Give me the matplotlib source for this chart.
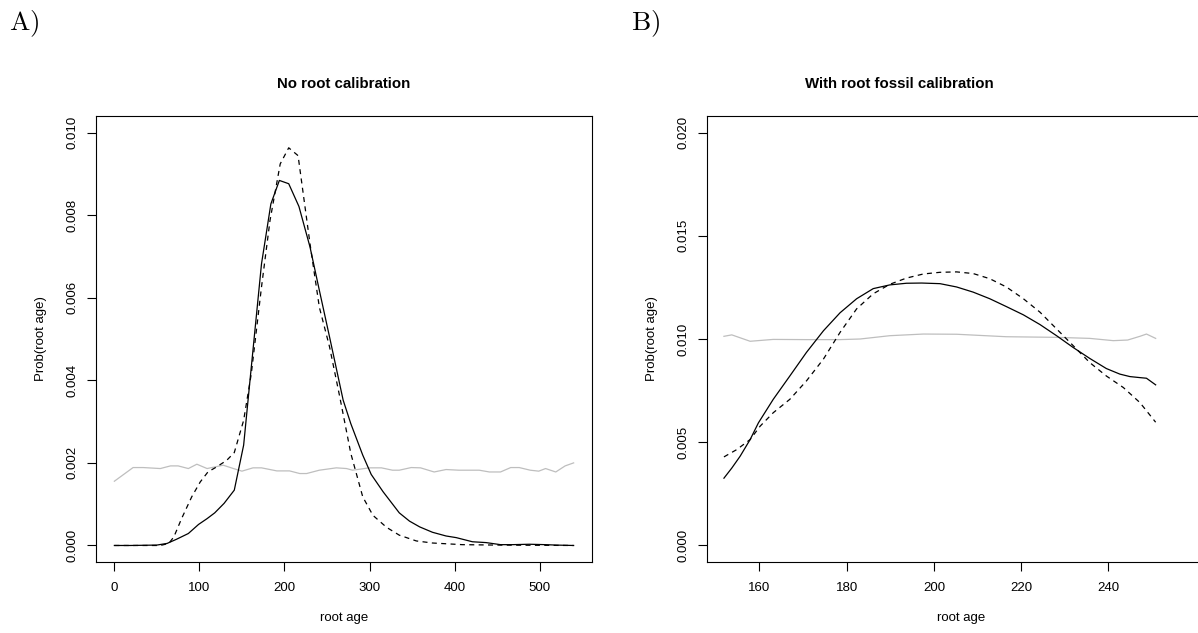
import numpy as np
import matplotlib
matplotlib.use("Agg")
import matplotlib.pyplot as plt

plt.rcParams['font.family'] = ['Liberation Sans', 'DejaVu Sans']
plt.rcParams['mathtext.fontset'] = 'cm'

# panel A: no root calibration
a_solid_x = [0, 19, 50, 62, 73, 87, 99, 109, 118, 129, 141, 152, 161, 173, 184, 194,
             205, 217, 230, 241, 253, 269, 278, 292, 302, 316, 335, 347, 359, 374,
             390, 402, 421, 437, 454, 468, 488, 507, 519, 540]
a_solid_y = [0, 0, 0.00001, 0.00005, 0.00015, 0.00029, 0.00051, 0.00065, 0.00079,
             0.00102, 0.00134, 0.00243, 0.00432, 0.00682, 0.00827, 0.00884, 0.00876,
             0.00821, 0.00723, 0.00618, 0.00505, 0.00352, 0.00295, 0.00219, 0.00172,
             0.00130, 0.00079, 0.00059, 0.00045, 0.00032, 0.00023, 0.00019, 0.00009,
             0.00007, 0.00002, 0.00002, 0.00003, 0.00002, 0.00001, 0]

a_dash_x = [0, 38, 54, 64, 70, 79, 91, 101, 110, 120, 132, 141, 152, 161, 173, 183,
            195, 205, 216, 230, 241, 253, 265, 278, 292, 304, 320, 335, 355, 374,
            409, 448, 540]
a_dash_y = [0, 0, 0, 0.00005, 0.00021, 0.00065, 0.00118, 0.00154, 0.00178, 0.00190,
            0.00206, 0.00225, 0.00303, 0.00416, 0.00626, 0.00787, 0.00924, 0.00963,
            0.00944, 0.00731, 0.00577, 0.00481, 0.00360, 0.00223, 0.00118, 0.00073,
            0.00044, 0.00025, 0.00011, 0.00006, 0.00002, 0.00001, 0]

a_prior_x = [0, 22, 34, 54, 66, 75, 87, 97, 109, 128, 140, 150, 163, 173, 191, 206,
             218, 226, 241, 261, 273, 280, 300, 314, 327, 335, 349, 360, 376, 390,
             405, 429, 441, 454, 466, 476, 489, 499, 507, 519, 530, 540]
a_prior_y = [0.001556, 0.001887, 0.001887, 0.001863, 0.001927, 0.001927, 0.001863,
             0.001968, 0.001863, 0.001944, 0.001863, 0.001800, 0.001880, 0.001880,
             0.001806, 0.001806, 0.001742, 0.001742, 0.001823, 0.001880, 0.001863,
             0.001823, 0.001880, 0.001880, 0.001823, 0.001823, 0.001887, 0.001880,
             0.001780, 0.001839, 0.001823, 0.001823, 0.001780, 0.001780, 0.001887,
             0.001887, 0.001823, 0.001800, 0.001863, 0.001780, 0.001927, 0.002000]

# panel B: root fossil calibration
b_solid_x = [151.9, 153.7, 155.6, 157.9, 159.8, 163.2, 167.0, 170.8, 174.7, 178.5,
             182.3, 186.1, 189.9, 193.7, 197.2, 201.4, 205.2, 209.0, 212.8, 216.6,
             220.5, 224.3, 228.1, 231.9, 235.7, 239.5, 242.6, 244.9, 247.2, 248.7, 250.8]
b_solid_y = [0.00326, 0.00375, 0.00432, 0.00513, 0.00594, 0.00708, 0.00821, 0.00935,
             0.01040, 0.01127, 0.01195, 0.01244, 0.01262, 0.01270, 0.01271, 0.01268,
             0.01252, 0.01227, 0.01195, 0.01157, 0.01117, 0.01070, 0.01016, 0.00959,
             0.00906, 0.00857, 0.00830, 0.00818, 0.00813, 0.00810, 0.00778]

b_dash_x = [151.9, 154.8, 157.9, 160.2, 163.2, 167.0, 170.8, 174.7, 178.5, 182.3,
            186.1, 189.9, 193.7, 197.6, 201.4, 205.2, 209.0, 212.8, 216.6, 220.5,
            224.3, 228.1, 231.9, 235.7, 239.5, 243.4, 247.2, 250.8]
b_dash_y = [0.00429, 0.00464, 0.00513, 0.00578, 0.00643, 0.00708, 0.00797, 0.00903,
            0.01032, 0.01146, 0.01219, 0.01265, 0.01295, 0.01315, 0.01323, 0.01325,
            0.01317, 0.01292, 0.01252, 0.01195, 0.01130, 0.01049, 0.00968, 0.00886,
            0.00821, 0.00765, 0.00692, 0.00597]

b_prior_x = [151.9, 153.7, 157.9, 163.2, 170.8, 178.5, 183.1, 189.9, 197.6, 205.2,
             216.6, 228.1, 235.7, 241.1, 244.4, 247.2, 248.7, 250.8]
b_prior_y = [0.01013, 0.01020, 0.00989, 0.00998, 0.00997, 0.00997, 0.01000, 0.01016,
             0.01024, 0.01023, 0.01011, 0.01008, 0.01003, 0.00992, 0.00995, 0.01013,
             0.01024, 0.01003]

a_xticks = [0, 100, 200, 300, 400, 500]
a_yticks = [0.000, 0.002, 0.004, 0.006, 0.008, 0.010]
b_xticks = [160, 180, 200, 220, 240]
b_yticks = [0.000, 0.005, 0.010, 0.015, 0.020]

W, H = 1198, 633
fig = plt.figure(figsize=(W / 100, H / 100), dpi=100)


def box(left, right, top, bottom):
    return [left / W, 1 - bottom / H, (right - left) / W, (bottom - top) / H]


def style(ax, title, xticks, yticks, fmt, title_x=0.5):
    ax.set_title(title, fontsize=10.8, fontweight='bold', pad=20, x=title_x)
    ax.set_xticks(xticks)
    ax.set_yticks(yticks)
    ax.set_yticklabels([fmt.format(v) for v in yticks], rotation=90, va='center')
    ax.tick_params(axis='both', direction='out', length=6.5, width=0.8,
                   labelsize=9.5, pad=8)
    ax.tick_params(axis='y', pad=6)
    ax.set_xlabel('root age', fontsize=9.5, labelpad=13)
    ax.set_ylabel('Prob(root age)', fontsize=9.5, labelpad=14)
    for s in ax.spines.values():
        s.set_linewidth(0.8)


def curves(ax, sx, sy, dx, dy, px, py):
    ax.plot(px, py, color='#bebebe', lw=0.9)
    ax.plot(sx, sy, color='black', lw=0.9)
    ax.plot(dx, dy, color='black', lw=0.9, dashes=(4, 3.5))


axA = fig.add_axes(box(96, 592, 116, 562))
curves(axA, a_solid_x, a_solid_y, a_dash_x, a_dash_y, a_prior_x, a_prior_y)
axA.set_xlim(-21.6, 561.6)
axA.set_ylim(-0.0004, 0.0104)
style(axA, 'No root calibration', a_xticks, a_yticks, '{:.3f}')

# right edge of this panel runs past the figure
axB = fig.add_axes(box(706.7, 1215, 116, 562))
curves(axB, b_solid_x, b_solid_y, b_dash_x, b_dash_y, b_prior_x, b_prior_y)
axB.set_xlim(147.95, 264.4)
axB.set_ylim(-0.0008, 0.0208)
style(axB, 'With root fossil calibration', b_xticks, b_yticks, '{:.3f}',
      title_x=(899 - 706.7) / (1215 - 706.7))

fig.text(24 / W, 1 - 24 / H, r'$\mathrm{A)}$', fontsize=19.5, ha='center', va='center')
fig.text(646 / W, 1 - 24 / H, r'$\mathrm{B)}$', fontsize=19.5, ha='center', va='center')

fig.savefig('out.png', dpi=100)
